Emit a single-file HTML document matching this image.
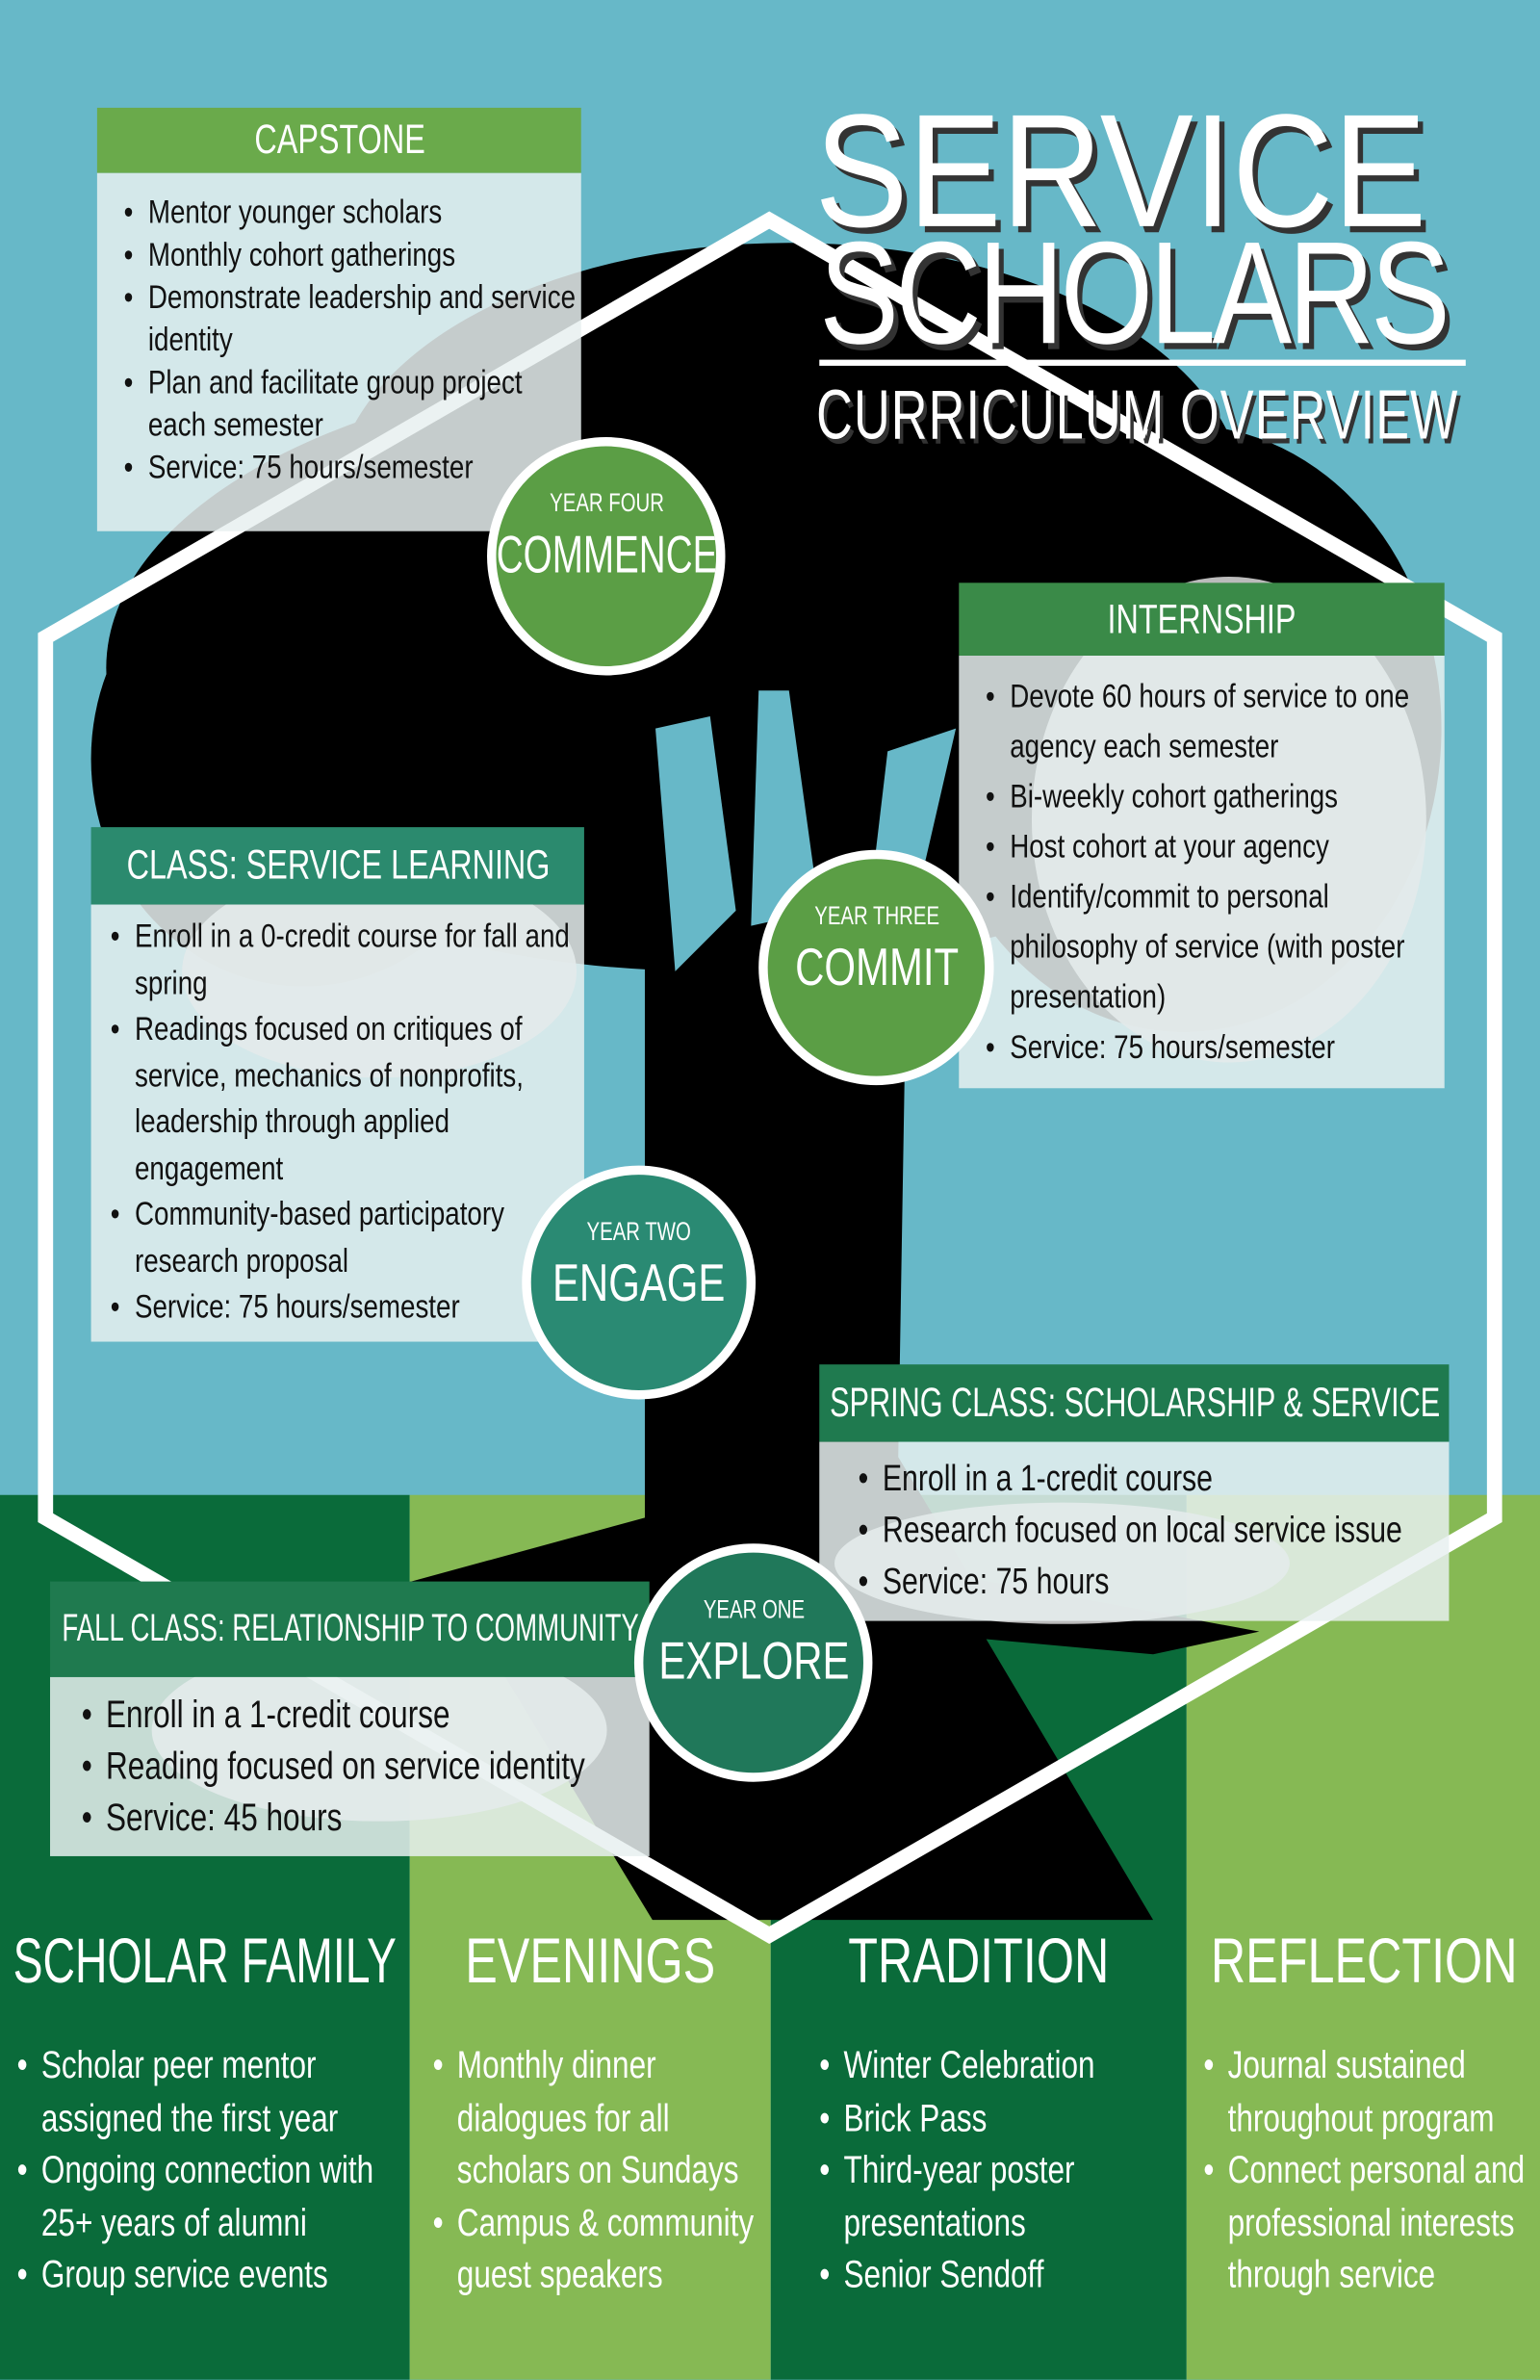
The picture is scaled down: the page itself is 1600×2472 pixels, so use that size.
<!DOCTYPE html>
<html><head><meta charset="utf-8"><style>
html,body{margin:0;padding:0;width:1600px;height:2472px;overflow:hidden;background:#67b8c8}
#o{position:absolute;left:0;top:0;width:1600px;height:2472px;overflow:hidden}
#w{position:absolute;left:0;top:0;width:1015px;height:1568px;overflow:hidden;transform:scale(1.5764);transform-origin:0 0;font-family:"Liberation Sans",sans-serif}
.a{position:absolute}
.hd{position:absolute;color:#fff;font-size:27px;line-height:1;display:flex;align-items:center;white-space:nowrap}
.cx{display:block;flex:none;width:800px;margin-left:calc(50% - 400px);text-align:center;transform:scaleX(.76);white-space:nowrap}
.bd{position:absolute;background:rgba(232,240,240,0.85);color:#111;font-size:22px;line-height:28px;overflow:hidden}
.n{width:125%;transform:scaleX(.8);transform-origin:0 0}
.bd ul,.col ul{margin:0;padding:0 0 0 16px;list-style:none}
.bd li,.col li{position:relative;padding-left:20px}
.bd li:before,.col li:before{content:"•";position:absolute;left:0}
.c{position:absolute;border:6px solid #fff;border-radius:50%;color:#fff;box-sizing:border-box;overflow:hidden}
.c .s{font-size:17px;margin-top:28px}
.c .b{font-size:35px;margin-top:4px}
.col{position:absolute;top:1262px;color:#fff;font-size:25px;line-height:34.5px}
.col h2{margin:0 0 22px 0;font-weight:normal;font-size:42px;line-height:60px}
</style></head><body><div id="o"><div id="w">
<div class="a" style="left:0;top:985px;width:270px;height:583px;background:#0a6b3a"></div>
<div class="a" style="left:270px;top:985px;width:238px;height:583px;background:#86b954"></div>
<div class="a" style="left:508px;top:985px;width:274px;height:583px;background:#0a6b3a"></div>
<div class="a" style="left:782px;top:985px;width:233px;height:583px;background:#86b954"></div>
<svg class="a" style="left:0;top:0" width="1015" height="1568">
<g fill="#000">
<ellipse cx="520" cy="330" rx="300" ry="170"/>
<ellipse cx="470" cy="440" rx="400" ry="200"/>
<ellipse cx="780" cy="480" rx="170" ry="200"/>
<ellipse cx="200" cy="500" rx="140" ry="150"/>
<path d="M425 600 L598 600 L592 960 L640 1040 L830 1075 L760 1090 L650 1080 L760 1265 L430 1265 L330 1100 L260 1045 L425 1000 Z"/>
</g>
<g fill="#67b8c8">
<path d="M432 480 L468 472 L485 600 L445 640 Z"/>
<path d="M500 455 L520 455 L540 600 L495 610 Z"/>
<path d="M585 495 L630 480 L600 610 L572 605 Z"/>
</g>
<g fill="#cfcfcf" opacity="0.9">
<ellipse cx="810" cy="540" rx="130" ry="160"/>
<ellipse cx="250" cy="640" rx="130" ry="70"/>
<ellipse cx="700" cy="1030" rx="150" ry="40"/>
<ellipse cx="250" cy="1140" rx="150" ry="60"/>
</g>
<polygon points="507,145 985,420 985,1000 507,1275 30,1000 30,420" fill="none" stroke="#fff" stroke-width="10"/>
</svg>
<div class="a" style="left:537px;top:60px;font-size:106px;color:#fff;line-height:1;white-space:nowrap;transform:scaleX(.87);transform-origin:0 0;text-shadow:4px 4px 0 #333">SERVICE</div>
<div class="a" style="left:540px;top:146px;font-size:96px;color:#fff;letter-spacing:-3px;line-height:1;white-space:nowrap;transform:scaleX(.82);transform-origin:0 0;text-shadow:4px 4px 0 #333">SCHOLARS</div>
<div class="a" style="left:540px;top:237px;width:426px;height:4px;background:#fff"></div>
<div class="a" style="left:538px;top:250px;font-size:46px;color:#fff;letter-spacing:1px;line-height:1;white-space:nowrap;transform:scaleX(.72);transform-origin:0 0;text-shadow:3px 3px 0 #333">CURRICULUM OVERVIEW</div>

<div class="hd" style="left:64px;top:71px;width:319px;height:43px;background:#6aaa4b"><span class="cx">CAPSTONE</span></div>
<div class="bd" style="left:64px;top:114px;width:319px;height:236px;padding-top:12px;box-sizing:border-box"><div class="n"><ul style="padding-left:22px"><li>Mentor younger scholars</li><li>Monthly cohort gatherings</li><li>Demonstrate leadership and service identity</li><li>Plan and facilitate group project each semester</li><li>Service: 75 hours/semester</li></ul></div></div>

<div class="hd" style="left:632px;top:384px;width:320px;height:48px;background:#3a8a48"><span class="cx">INTERNSHIP</span></div>
<div class="bd" style="left:632px;top:432px;width:320px;height:285px;padding-top:10px;box-sizing:border-box;line-height:33px"><div class="n"><ul style="padding-left:22px"><li>Devote 60 hours of service to one agency each semester</li><li>Bi-weekly cohort gatherings</li><li>Host cohort at your agency</li><li>Identify/commit to personal philosophy of service (with poster presentation)</li><li>Service: 75 hours/semester</li></ul></div></div>

<div class="hd" style="left:60px;top:545px;width:325px;height:51px;background:#2b8a6e"><span class="cx">CLASS: SERVICE LEARNING</span></div>
<div class="bd" style="left:60px;top:596px;width:325px;height:288px;padding-top:6px;box-sizing:border-box;line-height:30.5px"><div class="n"><ul style="padding-left:16px"><li>Enroll in a 0-credit course for fall and spring</li><li>Readings focused on critiques of service, mechanics of nonprofits, leadership through applied engagement</li><li>Community-based participatory research proposal</li><li>Service: 75 hours/semester</li></ul></div></div>

<div class="hd" style="left:540px;top:899px;width:415px;height:51px;background:#1f7a4f"><span class="cx" style="transform:scaleX(.72)">SPRING CLASS: SCHOLARSHIP &amp; SERVICE</span></div>
<div class="bd" style="left:540px;top:950px;width:415px;height:118px;padding-top:8px;box-sizing:border-box;font-size:24px;line-height:34px"><div class="n"><ul style="padding-left:32px"><li>Enroll in a 1-credit course</li><li>Research focused on local service issue</li><li>Service: 75 hours</li></ul></div></div>

<div class="hd" style="left:33px;top:1042px;width:395px;height:63px;background:#1f7a4f;font-size:25px"><span class="cx" style="transform:scaleX(.7)">FALL CLASS: RELATIONSHIP TO COMMUNITY</span></div>
<div class="bd" style="left:33px;top:1105px;width:395px;height:118px;padding-top:8px;box-sizing:border-box;font-size:25px;line-height:34px"><div class="n"><ul style="padding-left:26px"><li>Enroll in a 1-credit course</li><li>Reading focused on service identity</li><li>Service: 45 hours</li></ul></div></div>

<div class="c" style="left:321px;top:288px;width:157px;height:157px;background:#5b9e45"><div class="s"><span class="cx">YEAR FOUR</span></div><div class="b"><span class="cx" style="transform:scaleX(.7)">COMMENCE</span></div></div>
<div class="c" style="left:500px;top:560px;width:155px;height:155px;background:#5b9e45"><div class="s"><span class="cx">YEAR THREE</span></div><div class="b"><span class="cx">COMMIT</span></div></div>
<div class="c" style="left:344px;top:768px;width:154px;height:154px;background:#2a8a73"><div class="s"><span class="cx">YEAR TWO</span></div><div class="b"><span class="cx">ENGAGE</span></div></div>
<div class="c" style="left:418px;top:1017px;width:157px;height:157px;background:#20785a"><div class="s"><span class="cx">YEAR ONE</span></div><div class="b"><span class="cx">EXPLORE</span></div></div>

<div class="col" style="left:0;width:270px"><h2><span class="cx" style="transform:scaleX(.7)">SCHOLAR FAMILY</span></h2><div class="n"><ul style="padding-left:14px"><li>Scholar peer mentor assigned the first year</li><li>Ongoing connection with 25+ years of alumni</li><li>Group service events</li></ul></div></div>
<div class="col" style="left:274px;width:230px"><h2><span class="cx">EVENINGS</span></h2><div class="n"><ul style="padding-left:14px"><li>Monthly dinner dialogues for all scholars on Sundays</li><li>Campus &amp; community guest speakers</li></ul></div></div>
<div class="col" style="left:508px;width:274px"><h2><span class="cx">TRADITION</span></h2><div class="n"><ul style="padding-left:40px"><li>Winter Celebration</li><li>Brick Pass</li><li>Third-year poster presentations</li><li>Senior Sendoff</li></ul></div></div>
<div class="col" style="left:782px;width:233px"><h2><span class="cx">REFLECTION</span></h2><div class="n"><ul style="padding-left:14px"><li>Journal sustained throughout program</li><li>Connect personal and professional interests through service</li></ul></div></div>
</div></div></body></html>
